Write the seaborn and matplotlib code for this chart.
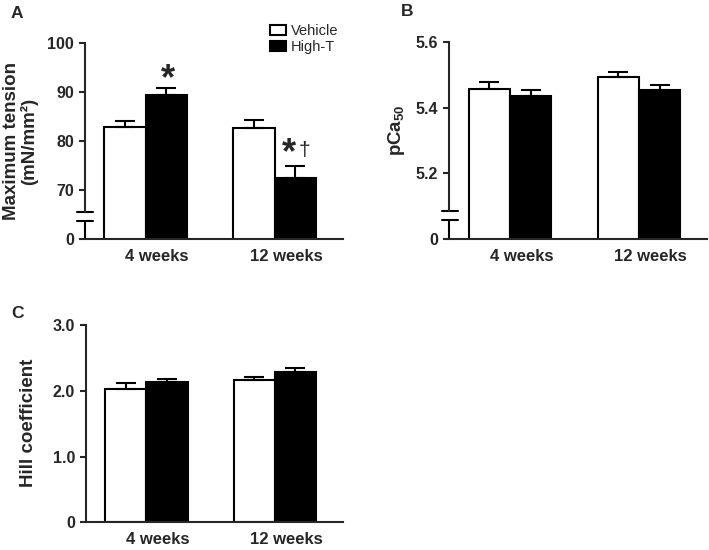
import pandas as pd
import numpy as np
import matplotlib
matplotlib.use("Agg")
import matplotlib.pyplot as plt
import seaborn as sns

# =============================
# 1) DATA (read off the figure)
# =============================

weeks = ["4 weeks", "12 weeks"]
groups = ["Vehicle", "High-T"]

# A) maximum tension (mN/mm2), mean and upper SEM
tension_vehicle = [82.8, 82.6]
tension_hight = [89.3, 72.5]
tension_vehicle_err = [1.3, 1.6]
tension_hight_err = [1.6, 2.3]

# B) pCa50
pca_vehicle = [5.457, 5.493]
pca_hight = [5.436, 5.455]
pca_vehicle_err = [0.021, 0.016]
pca_hight_err = [0.017, 0.014]

# C) Hill coefficient
hill_vehicle = [2.02, 2.16]
hill_hight = [2.14, 2.29]
hill_vehicle_err = [0.10, 0.045]
hill_hight_err = [0.04, 0.06]

# =============================
# 2) STYLE
# =============================

sns.set_style("ticks")
plt.rcParams["font.family"] = ["Liberation Sans", "DejaVu Sans"]
plt.rcParams["font.weight"] = "bold"
plt.rcParams["mathtext.fontset"] = "custom"
plt.rcParams["mathtext.rm"] = "Liberation Sans:bold"
plt.rcParams["mathtext.default"] = "rm"

LW = 1.5
YLAB = 13.5


def draw_panel(ax, vehicle, hight, vehicle_err, hight_err, legend=False):
    df = pd.DataFrame({
        "week": weeks * 2,
        "group": [groups[0]] * 2 + [groups[1]] * 2,
        "value": vehicle + hight,
    })
    sns.barplot(data=df, x="week", y="value", hue="group", order=weeks,
                hue_order=groups, palette=["white", "black"], saturation=1,
                edgecolor="black", linewidth=LW, width=0.64, errorbar=None,
                legend=legend, ax=ax)
    # one-sided (upper) error bars
    for container, errs in zip(ax.containers, [vehicle_err, hight_err]):
        xs = [p.get_x() + p.get_width() / 2 for p in container]
        ys = [p.get_height() for p in container]
        ax.errorbar(xs, ys, yerr=[np.zeros(len(errs)), errs], fmt="none",
                    ecolor="black", elinewidth=LW, capsize=7, capthick=LW,
                    zorder=3)
    ax.set_xticks([0.09, 1.09])
    ax.set_xticklabels(weeks, fontsize=12, fontweight="bold")
    ax.set_xlim(-0.47, 1.53)
    ax.set_xlabel("")
    ax.tick_params(axis="x", length=0, pad=7)
    ax.tick_params(axis="y", length=4, width=LW, pad=4, labelsize=11.5)
    sns.despine(ax=ax)
    for side in ["left", "bottom"]:
        ax.spines[side].set_linewidth(LW)


def add_break(ax, lo, hi):
    ymin, ymax = ax.get_ylim()
    ax.spines["left"].set_bounds(hi, ymax)
    trans = ax.get_yaxis_transform()
    ax.plot([0, 0], [ymin, lo], transform=trans, color="black", lw=LW,
            clip_on=False, solid_capstyle="butt")
    for y in (lo, hi):
        ax.plot([-0.03, 0.032], [y, y], transform=trans, color="black",
                lw=LW, clip_on=False)


fig = plt.figure(figsize=(7.09, 5.5), dpi=100)
axA = fig.add_axes([85 / 709, 1 - 239 / 550, 258 / 709, 196 / 550])
axB = fig.add_axes([449.3 / 709, 1 - 239 / 550, 258 / 709, 196.7 / 550])
axC = fig.add_axes([86 / 709, 1 - 522.3 / 550, 257 / 709, 197.3 / 550])

# ---- A: maximum tension ----
draw_panel(axA, tension_vehicle, tension_hight, tension_vehicle_err,
           tension_hight_err, legend=True)
axA.set_ylim(60, 100)
axA.set_yticks([60, 70, 80, 90, 100])
axA.set_yticklabels(["0", "70", "80", "90", "100"])
axA.set_ylabel("Maximum tension\n(mN/mm\u00b2)", fontsize=YLAB,
               fontweight="bold", linespacing=1.05, va="center")
axA.yaxis.set_label_coords(-0.25, 0.5)
add_break(axA, 63.7, 65.5)

handles, labels = axA.get_legend_handles_labels()
axA.legend(handles, labels, loc="upper left", bbox_to_anchor=(0.718, 1.095),
           frameon=False, prop={"size": 10.5, "weight": "normal"},
           handlelength=1.05, handleheight=0.7, handletextpad=0.35,
           labelspacing=0.1, borderpad=0, borderaxespad=0)

# significance marks
hi_bars = axA.containers[1]
x4 = hi_bars[0].get_x() + hi_bars[0].get_width() / 2
x12 = hi_bars[1].get_x() + hi_bars[1].get_width() / 2
axA.text(x4 + 0.01, 90.6, "*", fontsize=26, fontweight="bold",
         ha="center", va="baseline")
axA.text(x12 - 0.05, 75.4, "*", fontsize=26, fontweight="bold",
         ha="center", va="baseline")
axA.text(x12 + 0.07, 77.0, "\u2020", fontsize=15, fontweight="normal",
         ha="center", va="baseline")

# ---- B: pCa50 ----
draw_panel(axB, pca_vehicle, pca_hight, pca_vehicle_err, pca_hight_err)
axB.set_ylim(5.0, 5.6)
axB.set_yticks([5.0, 5.2, 5.4, 5.6])
axB.set_yticklabels(["0", "5.2", "5.4", "5.6"])
axB.set_ylabel("pCa$_{50}$", fontsize=YLAB, fontweight="bold", va="center")
axB.yaxis.set_label_coords(-0.203, 0.555)
add_break(axB, 5.058, 5.085)

# ---- C: Hill coefficient ----
draw_panel(axC, hill_vehicle, hill_hight, hill_vehicle_err, hill_hight_err)
axC.set_ylim(0, 3.0)
axC.set_yticks([0, 1.0, 2.0, 3.0])
axC.set_yticklabels(["0", "1.0", "2.0", "3.0"])
axC.set_ylabel("Hill coefficient", fontsize=YLAB, fontweight="bold",
               va="center")
axC.yaxis.set_label_coords(-0.222, 0.506)

# panel letters
fig.text(17 / 709, 1 - 13 / 550, "A", fontsize=12.5, fontweight="bold",
         ha="center", va="center")
fig.text(407 / 709, 1 - 12 / 550, "B", fontsize=12.5, fontweight="bold",
         ha="center", va="center")
fig.text(17 / 709, 1 - 313 / 550, "C", fontsize=12.5, fontweight="bold",
         ha="center", va="center")

fig.savefig("out.png", dpi=100)
plt.close(fig)
